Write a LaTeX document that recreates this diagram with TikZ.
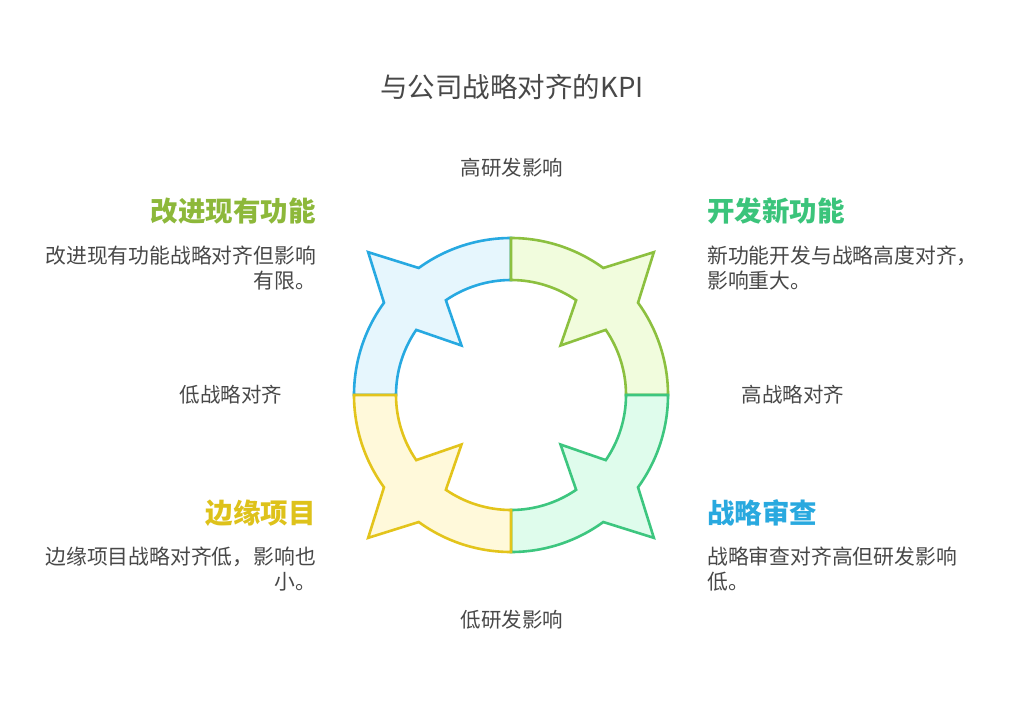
\documentclass[tikz,border=0pt]{standalone}
\usepackage{fontspec}
\setmainfont{Noto Sans CJK SC}
\definecolor{txtgray}{HTML}{484848}
\definecolor{blueS}{HTML}{27A9E1}
\definecolor{blueF}{HTML}{E6F6FD}
\definecolor{limeS}{HTML}{8CC03F}
\definecolor{limeF}{HTML}{F1FCDD}
\definecolor{greenS}{HTML}{3DC67F}
\definecolor{greenF}{HTML}{DFFCEC}
\definecolor{yellS}{HTML}{E3C41B}
\definecolor{yellF}{HTML}{FFF9DA}
\definecolor{headLime}{HTML}{8DB83A}
\definecolor{headGreen}{HTML}{3BC47B}
\definecolor{headYell}{HTML}{DEC21A}
\definecolor{headBlue}{HTML}{29A9DF}
\newcommand\ringpart[3]{%
  \pgfmathsetmacro\qa{#1}%
  \pgfmathsetmacro\qb{#1+90}%
  \pgfmathsetmacro\qm{#1+45}%
  \pgfmathsetmacro\qoa{\qm-9}%
  \pgfmathsetmacro\qob{\qm+9}%
  \pgfmathsetmacro\qia{\qm-10.5}%
  \pgfmathsetmacro\qib{\qm+10.5}%
  \path[ringstyle, draw=#2, fill=#3]
    (\qa:157pt) arc[start angle=\qa, end angle=\qoa, radius=157pt]
    -- (\qm:202pt) -- (\qob:157pt)
    arc[start angle=\qob, end angle=\qb, radius=157pt]
    -- (\qb:115pt) arc[start angle=\qb, end angle=\qib, radius=115pt]
    -- (\qm:70pt) -- (\qia:115pt)
    arc[start angle=\qia, end angle=\qa, radius=115pt] -- cycle;%
}
\tikzset{
  ringstyle/.style={line width=2.6pt, line join=miter},
  lbl/.style={text=txtgray, font=\fontsize{20.5}{25}\selectfont, inner sep=0pt},
  head/.style={font=\fontsize{27.5}{32}\selectfont\bfseries, inner sep=0pt},
  body/.style={text=txtgray, font=\fontsize{20.8}{25}\selectfont, inner sep=0pt},
}
\begin{document}
\begin{tikzpicture}[x=1pt,y=1pt]
\useasboundingbox[fill=white] (0,0) rectangle (1024,-723);
\begin{scope}[shift={(511,-395)}]
  \ringpart{90}{blueS}{blueF}
  \ringpart{0}{limeS}{limeF}
  \ringpart{-90}{greenS}{greenF}
  \ringpart{180}{yellS}{yellF}
\end{scope}
\node[lbl, font=\fontsize{27.5}{32}\selectfont, anchor=base] (title) at (512,-97.5) {与公司战略对齐的KPI};
\node[lbl, anchor=base] (hiRD) at (512,-175.5) {高研发影响};
\node[lbl, anchor=base] (loRD) at (512,-627.5) {低研发影响};
\node[lbl, anchor=base] (loSA) at (231,-402.5) {低战略对齐};
\node[lbl, anchor=base] (hiSA) at (793,-402.5) {高战略对齐};
\node[head, text=headLime, anchor=base east] (h1) at (316,-221.5) {改进现有功能};
\node[head, text=headGreen, anchor=base west] (h2) at (707,-221.5) {开发新功能};
\node[head, text=headYell, anchor=base east] (h3) at (316,-523.5) {边缘项目};
\node[head, text=headBlue, anchor=base west] (h4) at (707,-523.5) {战略审查};
\node[body, align=right, anchor=base east] (b1) at (316,-288.5) {改进现有功能战略对齐但影响\\有限。};
\node[body, align=left, anchor=base west] (b2) at (707,-288.5) {新功能开发与战略高度对齐，\\影响重大。};
\node[body, align=right, anchor=base east] (b3) at (316,-589.5) {边缘项目战略对齐低，影响也\\小。};
\node[body, align=left, anchor=base west] (b4) at (707,-589.5) {战略审查对齐高但研发影响\\低。};
\end{tikzpicture}
\end{document}
